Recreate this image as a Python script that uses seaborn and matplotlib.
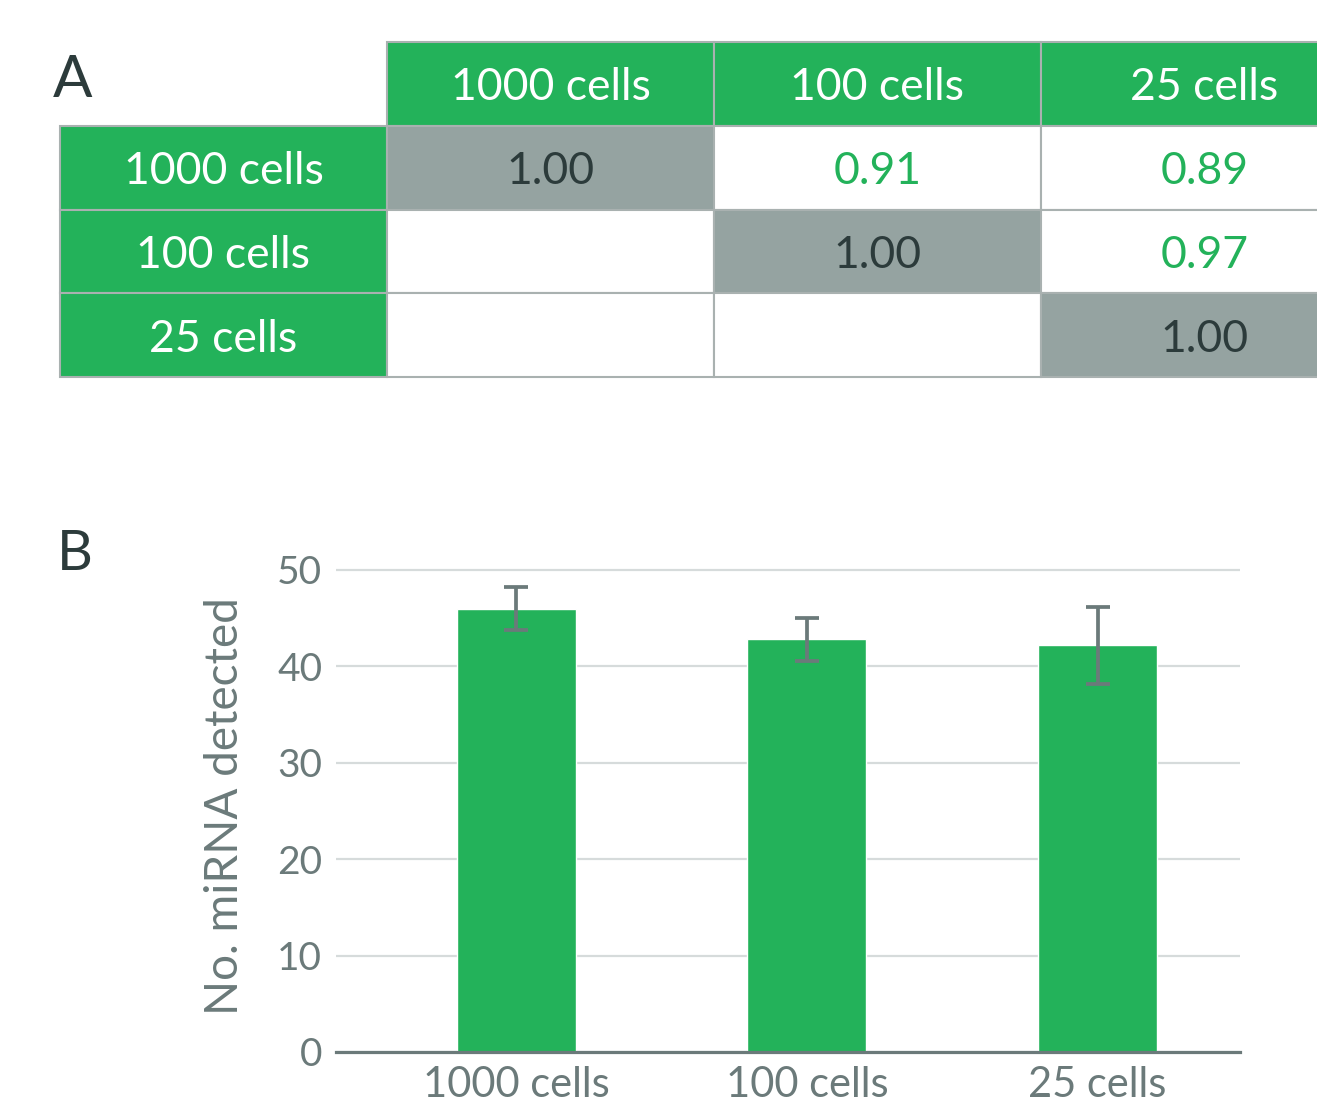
import matplotlib
matplotlib.use("Agg")
import matplotlib.pyplot as plt
from matplotlib.patches import Rectangle
import seaborn as sns
import pandas as pd

# ---- data ----
groups = ["1000 cells", "100 cells", "25 cells"]
correlation = [
    [1.00, 0.91, 0.89],
    [None, 1.00, 0.97],
    [None, None, 1.00],
]
mirna_mean = [46.0, 42.8, 42.2]
mirna_err = [2.2, 2.2, 4.0]
y_ticks = [0, 10, 20, 30, 40, 50]

GREEN = "#23b25a"
GRAY_CELL = "#95a3a1"
BORDER = "#a9b1b0"
DARK = "#2c3b3b"
AXIS_GRAY = "#6b7a7a"
GRID = "#d6dbdb"

sns.set_theme(style="white")
plt.rcParams["font.family"] = ["Lato", "DejaVu Sans"]

W, H = 1317, 1110
fig = plt.figure(figsize=(W / 100, H / 100), dpi=100)


def frac_box(x0, y0, x1, y1):
    return [x0 / W, 1 - y1 / H, (x1 - x0) / W, (y1 - y0) / H]


# ---- panel A: correlation table ----
ax_t = fig.add_axes(frac_box(60, 42, 1368, 377))
ax_t.set_xlim(-1, len(groups))
ax_t.set_ylim(len(groups), -1)
ax_t.axis("off")

fs_table = 32
for j, g in enumerate(groups):
    ax_t.add_patch(Rectangle((j, -1), 1, 1, facecolor=GREEN, edgecolor=BORDER, lw=1.5, clip_on=False))
    ax_t.text(j + 0.5, -0.5, g, ha="center", va="center_baseline", color="white",
              fontsize=fs_table, clip_on=False)
for i, g in enumerate(groups):
    ax_t.add_patch(Rectangle((-1, i), 1, 1, facecolor=GREEN, edgecolor=BORDER, lw=1.5, clip_on=False))
    ax_t.text(-0.5, i + 0.5, g, ha="center", va="center_baseline", color="white",
              fontsize=fs_table, clip_on=False)
for i, row in enumerate(correlation):
    for j, v in enumerate(row):
        diag = i == j
        ax_t.add_patch(Rectangle((j, i), 1, 1, facecolor=GRAY_CELL if diag else "white",
                                 edgecolor=BORDER, lw=1.5, clip_on=False))
        if v is not None:
            ax_t.text(j + 0.5, i + 0.5, f"{v:.2f}", ha="center", va="center_baseline",
                      color=DARK if diag else GREEN, fontsize=fs_table, clip_on=False)

fig.text(53 / W, 1 - 97 / H, "A", fontsize=42, color=DARK, ha="left", va="baseline")
fig.text(57 / W, 1 - 570 / H, "B", fontsize=40, color=DARK, ha="left", va="baseline")

# ---- panel B: bar chart ----
ax = fig.add_axes(frac_box(336, 1052 - 51 * 9.64, 1240, 1052))
df = pd.DataFrame({"group": groups, "mirna": mirna_mean})
sns.barplot(data=df, x="group", y="mirna", color=GREEN, saturation=1, width=0.41,
            errorbar=None, ax=ax, zorder=3)
ax.errorbar(range(len(groups)), mirna_mean, yerr=mirna_err, fmt="none",
            ecolor=AXIS_GRAY, elinewidth=2.7, capsize=8.6, capthick=2.7, zorder=4)
ax.set_ylim(0, 51)
ax.set_xlim(-0.62, 2.49)
ax.set_yticks(y_ticks)
ax.yaxis.grid(True, color=GRID, lw=1.6, zorder=0)
ax.set_axisbelow(True)
for s in ["left", "right", "top"]:
    ax.spines[s].set_visible(False)
ax.spines["bottom"].set_color(AXIS_GRAY)
ax.spines["bottom"].set_linewidth(2.3)
ax.spines["bottom"].set_zorder(5)
ax.tick_params(axis="both", length=0, colors=AXIS_GRAY)
ax.tick_params(axis="y", labelsize=28, pad=10)
ax.tick_params(axis="x", labelsize=30, pad=10)
ax.set_xlabel("")
ax.set_ylabel("No. miRNA detected", fontsize=33, color=AXIS_GRAY, labelpad=22)

fig.savefig("out.png", dpi=100)
